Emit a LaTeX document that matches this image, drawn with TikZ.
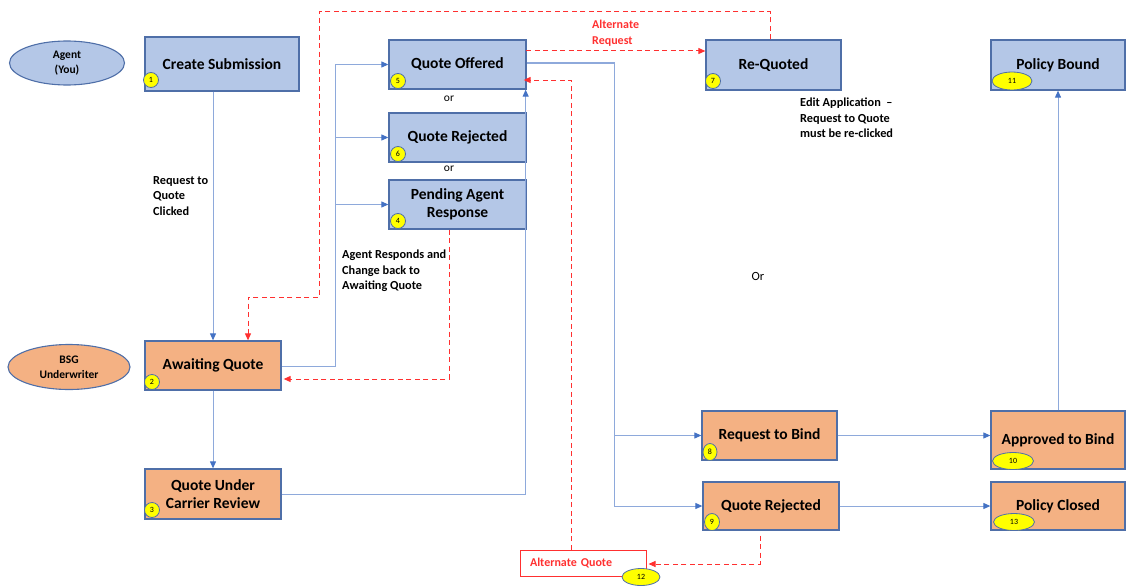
\documentclass[tikz,border=0pt]{standalone}
\usepackage{fontspec}
\setmainfont{Carlito}
\usetikzlibrary{arrows.meta,shapes.geometric,calc}
\definecolor{bluefill}{HTML}{B4C7E7}
\definecolor{orangefill}{HTML}{F4B183}
\definecolor{boxborder}{HTML}{4F6FA8}
\definecolor{linecol}{HTML}{8EA9DB}
\definecolor{arrowblue}{HTML}{4472C4}
\definecolor{altred}{HTML}{FF3030}
\definecolor{badgeyellow}{HTML}{FFFF00}
\tikzset{
  boxbase/.style={draw=boxborder, line width=1.3pt, align=center, inner sep=0pt,
    font=\fontsize{15.5}{18.5}\selectfont\bfseries},
  bluebox/.style={boxbase, fill=bluefill},
  orangebox/.style={boxbase, fill=orangefill},
  roleell/.style={ellipse, draw=boxborder, line width=1.1pt, align=center, inner sep=0pt,
    font=\fontsize{11.5}{15}\selectfont\bfseries},
  badge/.style={ellipse, draw=boxborder, line width=0.8pt, fill=badgeyellow, inner sep=0pt,
    font=\fontsize{8}{9}\selectfont},
  flowline/.style={draw=linecol, line width=1pt},
  flow/.style={flowline, -{Triangle[length=7pt,width=6pt,color=arrowblue]}},
  alt/.style={draw=altred, line width=1pt, dash pattern=on 5pt off 3.5pt,
    -{Triangle[length=7pt,width=6pt,color=altred]}},
  note/.style={align=left, inner sep=0pt, font=\fontsize{12.3}{15.5}\selectfont\bfseries},
  ortext/.style={inner sep=0pt, font=\fontsize{11.5}{13}\selectfont},
}
\begin{document}
\begin{tikzpicture}[x=1pt,y=-1pt]
\useasboundingbox (0,0) rectangle (1126,586);
% roles
\node[roleell, fill=bluefill, minimum width=115pt, minimum height=44pt] (agent) at (67,63) {Agent\\(You)};
\node[roleell, fill=orangefill, minimum width=122pt, minimum height=45pt] (bsg) at (69,367) {BSG\\Underwriter};
% boxes
\node[bluebox, minimum width=154pt, minimum height=54pt] (cs) at (222,64) {Create Submission};
\node[bluebox, minimum width=137pt, minimum height=49pt] (qo) at (457.5,64.5) {Quote Offered};
\node[bluebox, minimum width=137pt, minimum height=49pt] (qr6) at (457.5,137.5) {Quote Rejected};
\node[bluebox, minimum width=137pt, minimum height=49pt] (par) at (457.5,204.5) {Pending Agent\\Response};
\node[bluebox, minimum width=135pt, minimum height=50pt] (rq) at (773.5,65) {Re-Quoted};
\node[bluebox, minimum width=134pt, minimum height=50pt] (pb) at (1058,65) {Policy Bound};
\node[orangebox, minimum width=136pt, minimum height=49pt] (aq) at (213,365.5) {Awaiting Quote};
\node[orangebox, minimum width=136pt, minimum height=50pt] (qucr) at (213,494) {Quote Under\\Carrier Review};
\node[orangebox, minimum width=135pt, minimum height=49pt] (rtb) at (769.5,435.5) {Request to Bind};
\node[orangebox, minimum width=136pt, minimum height=48pt] (qr9) at (771,506) {Quote Rejected};
\node[orangebox, minimum width=134pt, minimum height=58pt] (atb) at (1058,440) {Approved to Bind};
\node[orangebox, minimum width=134pt, minimum height=48pt] (pc) at (1058,506) {Policy Closed};
\node[draw=altred, line width=1pt, fill=white, minimum height=26pt, inner ysep=0pt, inner xsep=10pt,
  text width=106pt, align=left,
  text=altred, font=\fontsize{12}{13}\selectfont\bfseries] (altq) at (583,563) {Alternate Quote};
% badges
\node[badge, minimum width=15pt, minimum height=15pt] (b1) at (151,80) {1};
\node[badge, minimum width=15pt, minimum height=15pt] (b5) at (398,81) {5};
\node[badge, minimum width=15pt, minimum height=15pt] (b6) at (398,154) {6};
\node[badge, minimum width=15pt, minimum height=15pt] (b4) at (398,221) {4};
\node[badge, minimum width=15pt, minimum height=15pt] (b7) at (713,81) {7};
\node[badge, minimum width=40pt, minimum height=18pt] (b11) at (1012,81) {11};
\node[badge, minimum width=15pt, minimum height=15pt] (b2) at (152,382) {2};
\node[badge, minimum width=15pt, minimum height=15pt] (b3) at (152,510) {3};
\node[badge, minimum width=14pt, minimum height=17pt] (b8) at (710,452) {8};
\node[badge, minimum width=15pt, minimum height=17pt] (b9) at (712,522) {9};
\node[badge, minimum width=41pt, minimum height=17pt] (b10) at (1013,461) {10};
\node[badge, minimum width=41pt, minimum height=17pt] (b13) at (1014,522) {13};
\node[badge, minimum width=38pt, minimum height=17pt] (b12) at (641,577) {12};
% texts
\node[note, anchor=north west] (t1) at (153,176) {Request to\\Quote\\Clicked};
\node[note, anchor=north west] (t2) at (342,250) {Agent Responds and\\Change back to\\Awaiting Quote};
\node[note, anchor=north west] (t3) at (800,98) {Edit Application\ \ --\\Request to Quote\\must be re-clicked};
\node[ortext] (or1) at (449,99) {or};
\node[ortext] (or2) at (449,169) {or};
\node[ortext, font=\fontsize{12.5}{14}\selectfont] (or3) at (758,276) {Or};
\node[note, text=altred, anchor=north west, font=\fontsize{12}{15.5}\selectfont\bfseries] (t4) at (592,20) {Alternate\\Request};
% coordinates
\coordinate (busA) at (335,366);
\coordinate (busB) at (614,63);
\coordinate (r1) at (319,12);
\coordinate (r2) at (248,297);
\coordinate (arS) at (526,51);
\coordinate (pd) at (449,379);
\coordinate (aqv) at (571,80);
\coordinate (q9d) at (760,564);
% blue connectors
\draw[flow] (aq.north |- cs.south) -- (aq.north);
\draw[flow] (aq.south) -- (qucr.north);
\draw[flowline] (aq.east |- busA) -- (busA) -- (busA |- qo.west);
\draw[flow] (busA |- qo.west) -- (qo.west);
\draw[flow] (busA |- qr6.west) -- (qr6.west);
\draw[flow] (busA |- par.west) -- (par.west);
\draw[flow] (qucr.east) -| ([xshift=-1pt]qo.south east);
\draw[flowline] (qo.east |- busB) -- (busB) -- (busB |- qr9.west);
\draw[flow] (busB |- rtb.west) -- (rtb.west);
\draw[flow] (busB |- qr9.west) -- (qr9.west);
\draw[flow] (rtb.east) -- (rtb.east -| atb.west);
\draw[flow] (qr9.east) -- (qr9.east -| pc.west);
\draw[flow] (atb.north) -- (pb.south);
% red alternates
\draw[alt] ([xshift=-3pt]rq.north) |- (r1) |- (r2) -- (r2 |- aq.north);
\draw[alt] (arS) -- (arS -| rq.west);
\draw[alt] (pd |- par.south) -- (pd) -- ([xshift=2pt]pd -| aq.east);
\draw[alt] (aqv |- altq.north) -- (aqv) -- ([xshift=-3pt]aqv -| qo.east);
\draw[alt] ([yshift=-5pt]q9d |- qr9.south) -- (q9d) -- ([xshift=2pt]q9d -| altq.east);
\end{tikzpicture}
\end{document}
